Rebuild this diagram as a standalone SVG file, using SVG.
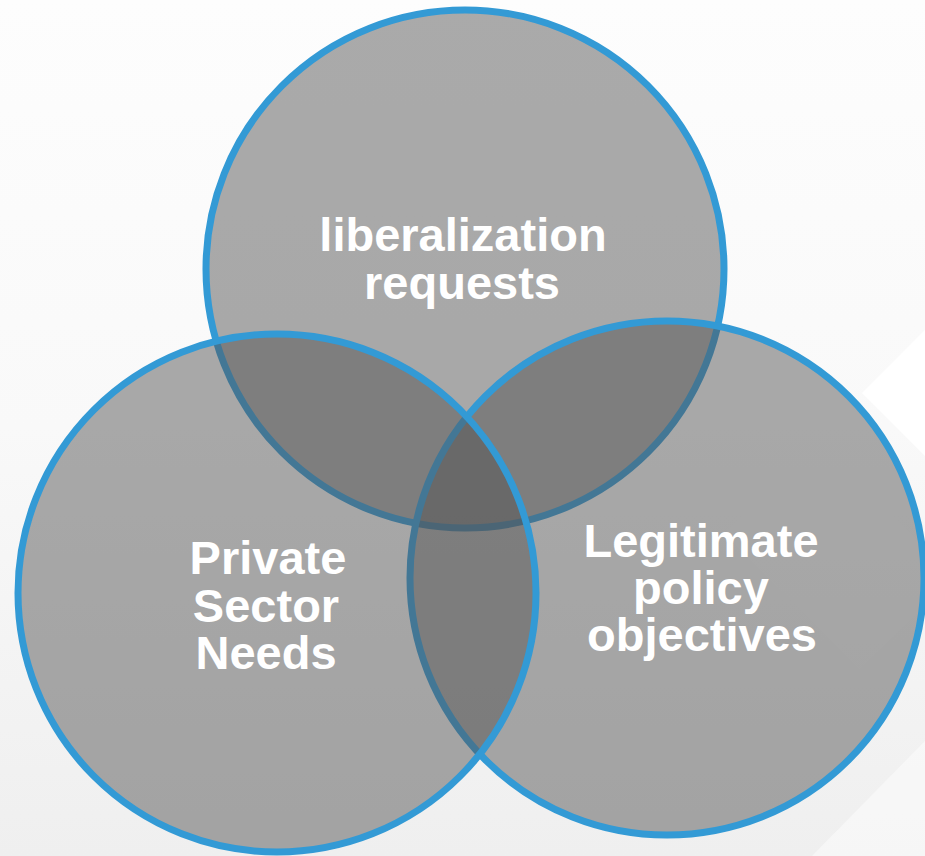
<svg xmlns="http://www.w3.org/2000/svg" width="925" height="856" viewBox="0 0 925 856">
  <defs>
    <linearGradient id="bg" x1="0" y1="0" x2="0" y2="1">
      <stop offset="0" stop-color="#fdfdfd"/>
      <stop offset="0.5" stop-color="#f9f9f9"/>
      <stop offset="1" stop-color="#efefef"/>
    </linearGradient>
    <style>
      .ring { fill: #545454; fill-opacity: 0.49; stroke: #339ad5; stroke-width: 7; }
      .label { font-family: "Liberation Sans", Arial, sans-serif; font-weight: bold; font-size: 47px; fill: #ffffff; text-anchor: middle; }
    </style>
  </defs>

  <!-- backdrop with faint decorative facets -->
  <rect x="0" y="0" width="925" height="856" fill="url(#bg)"/>
  <polygon points="925,330 862,393 925,456" fill="#ffffff"/>
  <polygon points="818,440 954,576 860,670 724,534" fill="#ffffff" fill-opacity="0.12"/>
  <polygon points="925,741 925,856 812,856" fill="#ffffff" fill-opacity="0.45"/>

  <g id="circle-liberalization">
    <circle class="ring" cx="465" cy="269" r="259"/>
  </g>
  <g id="circle-policy">
    <circle class="ring" cx="667" cy="578" r="257"/>
  </g>
  <g id="circle-private">
    <circle class="ring" cx="277" cy="593" r="259"/>
  </g>

  <g id="connectors"></g>

  <g id="labels">
    <text class="label" x="463" y="251">liberalization</text>
    <text class="label" x="462" y="299">requests</text>
    <text class="label" x="268" y="574">Private</text>
    <text class="label" x="266" y="621.5">Sector</text>
    <text class="label" x="266" y="669">Needs</text>
    <text class="label" x="701" y="557">Legitimate</text>
    <text class="label" x="701" y="604">policy</text>
    <text class="label" x="702" y="651">objectives</text>
  </g>
</svg>
